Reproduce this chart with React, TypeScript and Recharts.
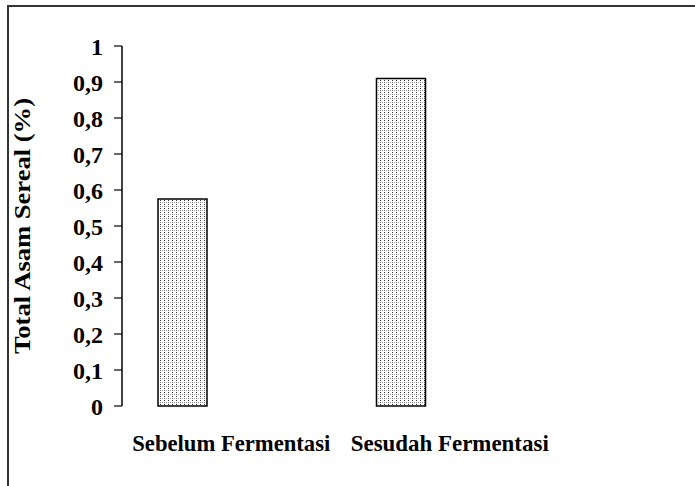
import { BarChart, Bar, XAxis, YAxis } from 'recharts'

const categories = ['Sebelum Fermentasi', 'Sesudah Fermentasi']
const totalAsam = [0.575, 0.91]
// Excel left room for two more series per category; they hold no values
const seriesB = [null, null]
const seriesC = [null, null]
const yTicks = [0, 0.1, 0.2, 0.3, 0.4, 0.5, 0.6, 0.7, 0.8, 0.9, 1]

const data = categories.map((name, i) => ({
  name,
  asam: totalAsam[i],
  b: seriesB[i],
  c: seriesC[i],
}))

// category boundaries for the x tick marks
const edgeTicks = [...categories.map((_, i) => i), categories.length]

const font = '"Liberation Serif", "Times New Roman", serif'

const YLabel = (props: any) => {
  const vb = props.viewBox || {}
  const x = vb.x + 22
  const y = vb.y + vb.height / 2
  return (
    <text
      x={x}
      y={y}
      transform={`rotate(-90 ${x} ${y})`}
      textAnchor="middle"
      dominantBaseline="central"
      fontFamily={font}
      fontWeight="bold"
      fontSize={23}
      textLength={256}
      lengthAdjust="spacingAndGlyphs"
      fill="#000"
    >
      Total Asam Sereal (%)
    </text>
  )
}

const CatTick = (props: any) => {
  const { x, y, payload } = props
  return (
    <text
      x={x}
      y={y}
      dy="0.71em"
      textAnchor="middle"
      fontFamily={font}
      fontWeight="bold"
      fontSize={23}
      textLength={198}
      lengthAdjust="spacingAndGlyphs"
      fill="#000"
    >
      {payload.value}
    </text>
  )
}

export default function App() {
  return (
    <div style={{ position: 'absolute', left: 0, top: 0, width: 695, height: 486, background: '#fff' }}>
      <div
        style={{
          position: 'absolute',
          left: 7,
          top: 5,
          width: 688,
          height: 481,
          borderTop: '2px solid #333',
          borderLeft: '2px solid #333',
          boxSizing: 'border-box',
        }}
      />
      <div style={{ position: 'absolute', left: 0, top: 0 }}>
        <BarChart
          width={695}
          height={486}
          data={data}
          margin={{ top: 46, right: 136, bottom: 20, left: 0 }}
          barCategoryGap={36}
          barGap={0}
        >
          <defs>
            <pattern id="dots" width="4" height="4" patternUnits="userSpaceOnUse">
              <rect width="4" height="4" fill="#fff" />
              <rect x="0" y="0" width="1" height="1" fill="#333" />
              <rect x="2" y="2" width="1" height="1" fill="#999" />
              <rect x="0" y="2" width="1" height="1" fill="#777" />
            </pattern>
          </defs>
          <XAxis
            xAxisId="edges"
            type="number"
            domain={[0, categories.length]}
            ticks={edgeTicks}
            tick={false}
            height={0}
            tickSize={8}
            stroke="#000"
            axisLine={{ stroke: '#000', strokeWidth: 1.5 }}
            tickLine={{ stroke: '#000', strokeWidth: 1.2 }}
          />
          <XAxis
            xAxisId="cat"
            dataKey="name"
            height={60}
            interval={0}
            axisLine={false}
            tickLine={false}
            tickSize={0}
            tickMargin={29}
            tick={<CatTick />}
          />
          <YAxis
            width={122}
            domain={[0, 1]}
            ticks={yTicks}
            interval={0}
            tickSize={8}
            tickMargin={11}
            tickFormatter={(v: number) => String(v).replace('.', ',')}
            axisLine={{ stroke: '#000', strokeWidth: 1.5 }}
            tickLine={{ stroke: '#000', strokeWidth: 1.2 }}
            tick={{ fill: '#000', fontFamily: font, fontWeight: 'bold', fontSize: 24 }}
            label={<YLabel />}
          />
          <Bar xAxisId="cat" dataKey="asam" fill="url(#dots)" stroke="#000" strokeWidth={1.5} isAnimationActive={false} />
          <Bar xAxisId="cat" dataKey="b" fill="url(#dots)" stroke="#000" strokeWidth={1.5} isAnimationActive={false} />
          <Bar xAxisId="cat" dataKey="c" fill="url(#dots)" stroke="#000" strokeWidth={1.5} isAnimationActive={false} />
        </BarChart>
      </div>
    </div>
  )
}
